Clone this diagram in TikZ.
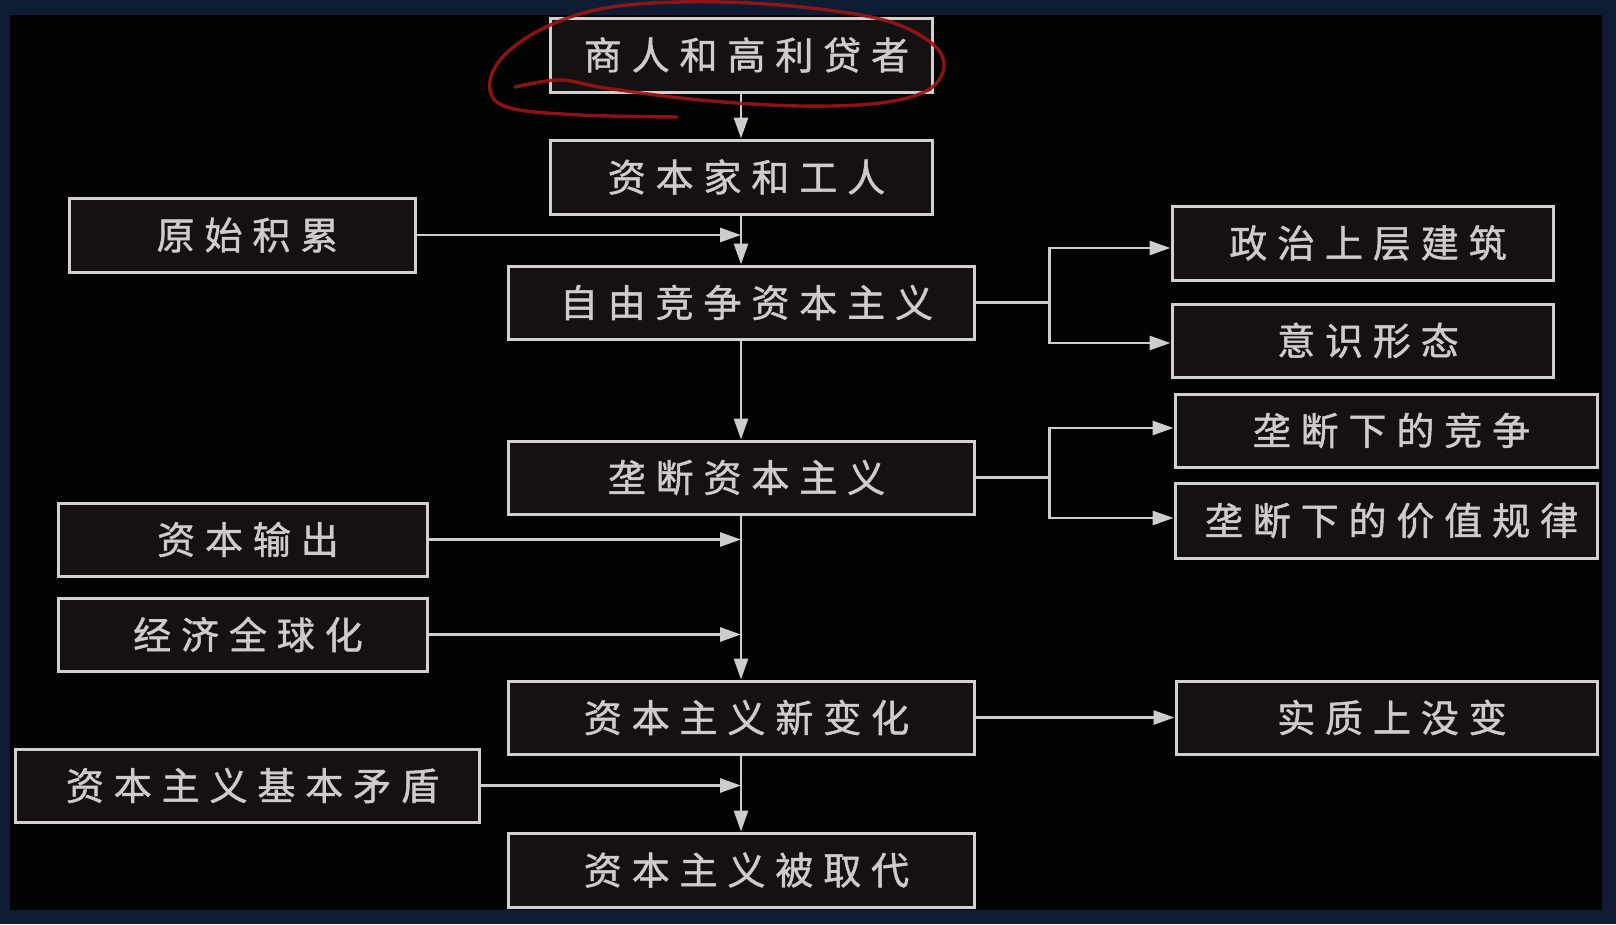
\documentclass[tikz,border=0pt]{standalone}
\usepackage{fontspec}
\newfontfamily\cjk[LetterSpace=26,FakeBold=1.2]{Noto Sans CJK SC}
\usetikzlibrary{arrows.meta}
\definecolor{navy}{HTML}{0D1B33}
\definecolor{inner}{HTML}{040304}
\definecolor{boxfill}{HTML}{151112}
\definecolor{boxline}{HTML}{D2CFCF}
\definecolor{arrline}{HTML}{CFCCCC}
\definecolor{txt}{HTML}{CFCBCB}
\definecolor{pen}{HTML}{9A1518}
\begin{document}
\begin{tikzpicture}[x=1pt,y=-1pt,
  box/.style={draw=boxline, fill=boxfill, line width=3pt, text=txt,
    font=\cjk\fontsize{38pt}{42pt}\selectfont, inner sep=0pt, anchor=center,
    minimum height=73pt, execute at begin node={\hspace{11pt}}},
  mainbox/.style={box, minimum width=466pt},
  arr/.style={draw=arrline, line width=2.8pt, -{Triangle[length=21pt,width=14pt]}},
  ln/.style={draw=arrline, line width=2.8pt}]
\useasboundingbox (0,0) rectangle (1616,924);
\fill[navy] (0,0) rectangle (1616,924);
\fill[inner] (10,15) rectangle (1602,910);

% main column
\node[box, minimum width=382pt, minimum height=74pt] (n1) at (741,55) {商人和高利贷者};
\node[box, minimum width=382pt, minimum height=74pt] (n2) at (741,177) {资本家和工人};
\node[mainbox] (n3) at (741,302.5) {自由竞争资本主义};
\node[mainbox] (n4) at (741,477.5) {垄断资本主义};
\node[mainbox] (n5) at (741,717.5) {资本主义新变化};
\node[mainbox, minimum height=74pt] (n6) at (741,870) {资本主义被取代};

% left column
\node[box, minimum width=346pt, minimum height=74pt] (s1) at (242,235) {原始积累};
\node[box, minimum width=369pt] (s2) at (242.5,539.5) {资本输出};
\node[box, minimum width=369pt] (s3) at (242.5,634.5) {经济全球化};
\node[box, minimum width=464pt] (s4) at (247,785.5) {资本主义基本矛盾};

% right column
\node[box, minimum width=381pt, minimum height=74pt] (r1) at (1362.5,243) {政治上层建筑};
\node[box, minimum width=381pt] (r2) at (1362.5,340.5) {意识形态};
\node[box, minimum width=422pt] (r3) at (1386,430.5) {垄断下的竞争};
\node[box, minimum width=422pt, minimum height=75pt] (r4) at (1386,520.5) {垄断下的价值规律};
\node[box, minimum width=421pt] (r5) at (1386.5,717.5) {实质上没变};

% vertical flow
\draw[arr] (n1.south) -- (n2.north);
\draw[arr] (n2.south) -- (n3.north);
\draw[arr] (n3.south) -- (n4.north);
\draw[arr] (n4.south) -- (n5.north);
\draw[arr] (n5.south) -- (n6.north);

% side inputs
\draw[arr] (s1.east) -- (s1.east -| n2.south);
\draw[arr] (s2.east) -- (s2.east -| n4.south);
\draw[arr] (s3.east) -- (s3.east -| n4.south);
\draw[arr] (s4.east) -- (s4.east -| n5.south);

% right branches
\draw[arr] (n3.east) -- ++(74,0) |- ([yshift=-5pt]r1.west);
\draw[arr] (n3.east) -- ++(74,0) |- ([yshift=-2.5pt]r2.west);
\draw[arr] (n4.east) -- ++(74,0) |- ([yshift=2.5pt]r3.west);
\draw[arr] (n4.east) -- ++(74,0) |- ([yshift=2.5pt]r4.west);
\draw[arr] (n5.east) -- (r5.west);

% red hand-drawn circle
\draw[pen, line width=3.4pt, line cap=round, line join=round, opacity=0.9]
  plot[smooth, tension=0.6] coordinates {
    (515,87) (560,80) (605,88) (700,100) (800,106) (880,103) (928,90)
    (944,66) (930,42) (880,19) (780,5) (680,2) (600,9) (540,30)
    (500,60) (490,90) (510,108) (580,115) (677,117)};
\end{tikzpicture}
\end{document}
